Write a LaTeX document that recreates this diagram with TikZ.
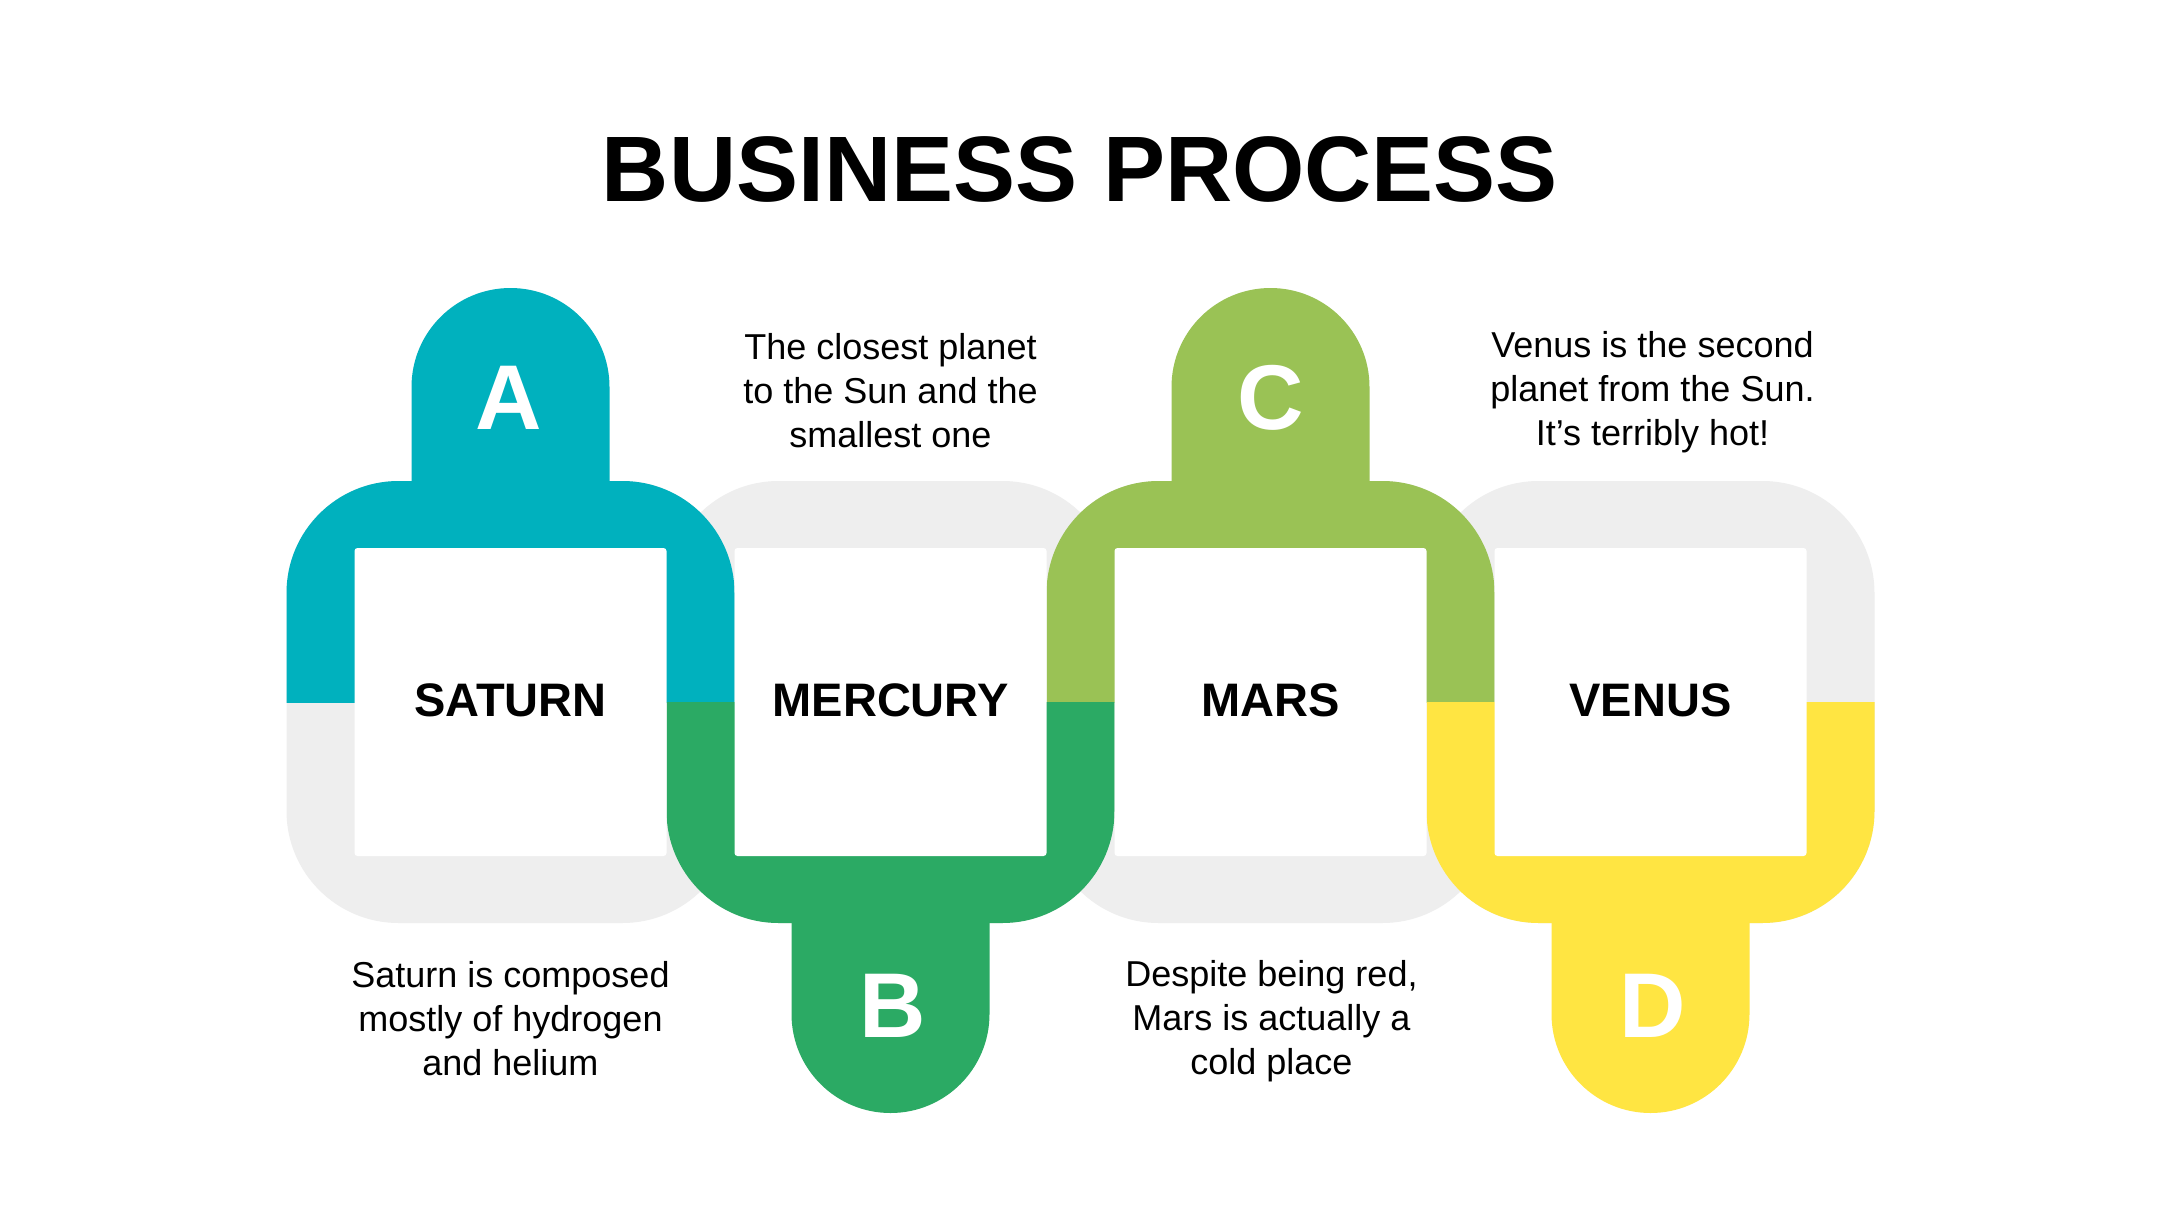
\documentclass[tikz,border=0pt]{standalone}
\usepackage{fontspec}
\setmainfont{Liberation Sans}
\definecolor{cteal}{HTML}{00B1BE}
\definecolor{cgreen}{HTML}{2BAA64}
\definecolor{clime}{HTML}{9AC255}
\definecolor{cyellow}{HTML}{FFE542}
\definecolor{cgray}{HTML}{EEEEEE}
\begin{document}
\begin{tikzpicture}[x=1pt,y=1pt,
  outerframe/.style={rounded corners=112pt},
  innerbox/.style={fill=white, rounded corners=3pt},
  titletext/.style={font=\fontsize{93}{100}\selectfont\bfseries, anchor=base, inner sep=0pt},
  planettext/.style={font=\fontsize{47}{50}\selectfont\bfseries, anchor=base, inner sep=0pt},
  lettertext/.style={font=\fontsize{92}{92}\selectfont\bfseries, text=white, anchor=base, inner sep=0pt},
  desctext/.style={font=\fontsize{36}{44}\selectfont, align=center, anchor=base, inner sep=0pt}]
\fill[white] (0,0) rectangle (2160,-1215);
\useasboundingbox (0,0) rectangle (2160,-1215);

% gray full frames
\foreach \cx in {510.5,890.5,1270.5,1650.5}
  \fill[cgray, outerframe] (\cx-224,-481) rectangle (\cx+224,-923);

% coloured top halves with tabs (A, C)
\foreach \cx/\col in {510.5/cteal,1270.5/clime}{
  \begin{scope}
    \clip (0,-702) rectangle (2160,0);
    \fill[\col, outerframe] (\cx-224,-481) rectangle (\cx+224,-923);
  \end{scope}
  \fill[\col] (\cx-99,-500) -- (\cx-99,-387) arc[start angle=180,end angle=0,radius=99] -- (\cx+99,-500) -- cycle;
}
% coloured bottom halves with tabs (B, D)
\foreach \cx/\col in {890.5/cgreen,1650.5/cyellow}{
  \begin{scope}
    \clip (0,-702) rectangle (2160,-1215);
    \fill[\col, outerframe] (\cx-224,-481) rectangle (\cx+224,-923);
  \end{scope}
  \fill[\col] (\cx-99,-904) -- (\cx-99,-1014) arc[start angle=180,end angle=360,radius=99] -- (\cx+99,-904) -- cycle;
}
% white inner boxes
\foreach \cx in {510.5,890.5,1270.5,1650.5}
  \fill[innerbox] (\cx-156,-548) rectangle (\cx+156,-856);

% title
\node[titletext] (title) at (1080,-201) {BUSINESS PROCESS};

% planet names
\node[planettext] (saturn) at (510.5,-716) {SATURN};
\node[planettext] (mercury) at (890.5,-716) {MERCURY};
\node[planettext] (mars) at (1270.5,-716) {MARS};
\node[planettext] (venus) at (1650.5,-716) {VENUS};

% letters
\node[lettertext] (la) at (508.5,-429) {A};
\node[lettertext] (lb) at (892.5,-1037) {B};
\node[lettertext] (lc) at (1270.5,-429) {C};
\node[lettertext] (ld) at (1652.5,-1037) {D};

% descriptions (base anchor = last line baseline)
\node[desctext] (dsaturn) at (510.5,-1075) {Saturn is composed\\mostly of hydrogen\\and helium};
\node[desctext] (dmercury) at (890.5,-447) {The closest planet\\to the Sun and the\\smallest one};
\node[desctext] (dmars) at (1271.5,-1074) {Despite being red,\\Mars is actually a\\cold place};
\node[desctext] (dvenus) at (1652.5,-445) {Venus is the second\\planet from the Sun.\\It’s terribly hot!};
\end{tikzpicture}
\end{document}
